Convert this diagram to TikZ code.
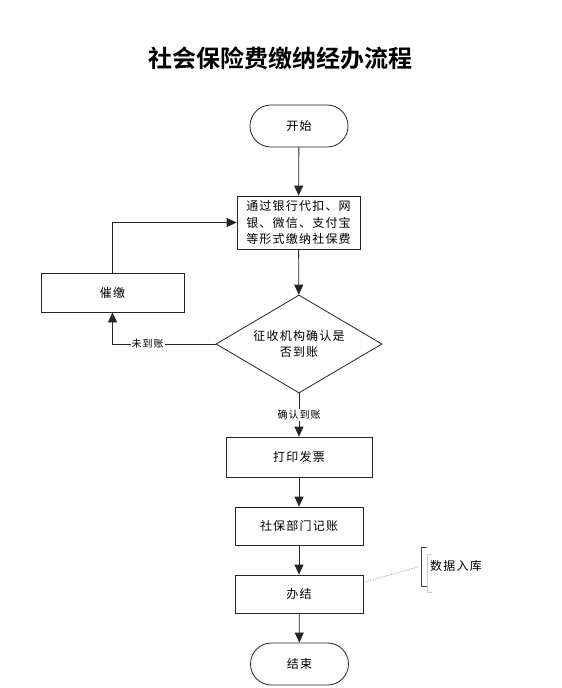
\documentclass[tikz,border=0pt]{standalone}
\usepackage{fontspec}
\setmainfont{Noto Sans CJK SC}[LetterSpace=10]
\newfontfamily\titlefont{Noto Sans CJK SC}[BoldFont={* Bold}]
\usetikzlibrary{shapes.geometric,arrows.meta,calc}
\begin{document}
\begin{tikzpicture}[x=1pt,y=-1pt,
  txt/.style={font=\fontsize{12}{16.5}\selectfont, align=center, inner sep=0pt},
  smalltxt/.style={font=\fontsize{10}{12}\selectfont, fill=white, inner sep=1pt},
  proc/.style={txt, draw=black!85, line width=0.8pt, fill=white},
  term/.style={txt, draw=black!85, line width=0.8pt, rounded corners=20.9pt, minimum width=98pt, minimum height=42pt},
  decide/.style={txt, draw=black!85, line width=0.8pt, diamond, shape aspect=1.69, minimum width=166pt, minimum height=98pt},
  arr/.style={line width=0.8pt, draw=black!85, -{Triangle[length=10pt,width=9pt]}},
  ln/.style={line width=0.8pt, draw=black!85}]
\useasboundingbox (0,0) rectangle (562,688);
\fill[white] (0,0) rectangle (562,688);

\node[font=\titlefont\bfseries\fontsize{24}{28}\selectfont] (title) at (280,58) {社会保险费缴纳经办流程};

\node[term] (start) at (299,126) {开始};
\node[proc, minimum width=123pt, minimum height=53pt] (pay) at (298.5,222.5) {通过银行代扣、网\\银、微信、支付宝\\等形式缴纳社保费};
\node[decide] (dec) at (299,344) {征收机构确认是\\否到账};
\node[proc, minimum width=143pt, minimum height=39pt] (urge) at (112.5,292.5) {催缴};
\node[proc, minimum width=146pt, minimum height=40pt] (print) at (299,457) {打印发票};
\node[proc, minimum width=128pt, minimum height=38pt] (book) at (299,526) {社保部门记账};
\node[proc, minimum width=128pt, minimum height=38pt] (done) at (299,594) {办结};
\node[term] (end) at (299.5,664) {结束};

\node[txt] (note) at (456,566) {数据入库};
\coordinate (b1) at (427,547);
\coordinate (b2) at (421,547);
\coordinate (b3) at (421,586);
\coordinate (b4) at (427,586);
\draw[line width=0.9pt, black!75] (b1) -- (b2) -- (b3) -- (b4);
\coordinate (c1) at (432,554);
\coordinate (c2) at (427,554);
\coordinate (c3) at (427,592);
\coordinate (c4) at (432,592);
\draw[line width=0.5pt, blue!15!black!20] (c1) -- (c2) -- (c3) -- (c4);
\coordinate (d1) at (365,582);
\coordinate (d2) at (418,567);
\draw[densely dotted, line width=0.7pt, black!40] (d1) -- (d2);

\draw[arr] (start) -- (pay);
\draw[arr] (pay) -- (dec);
\draw[arr] (dec.west) -| node[smalltxt, pos=0.33] {未到账} (urge.south);
\draw[arr] (urge.north) |- (pay.west);
\draw[arr] (dec.south) -- node[smalltxt, pos=0.5] {确认到账} (print.north);
\draw[arr] (print) -- (book);
\draw[arr] (book) -- (done);
\draw[arr] (done) -- (end);
\end{tikzpicture}
\end{document}
